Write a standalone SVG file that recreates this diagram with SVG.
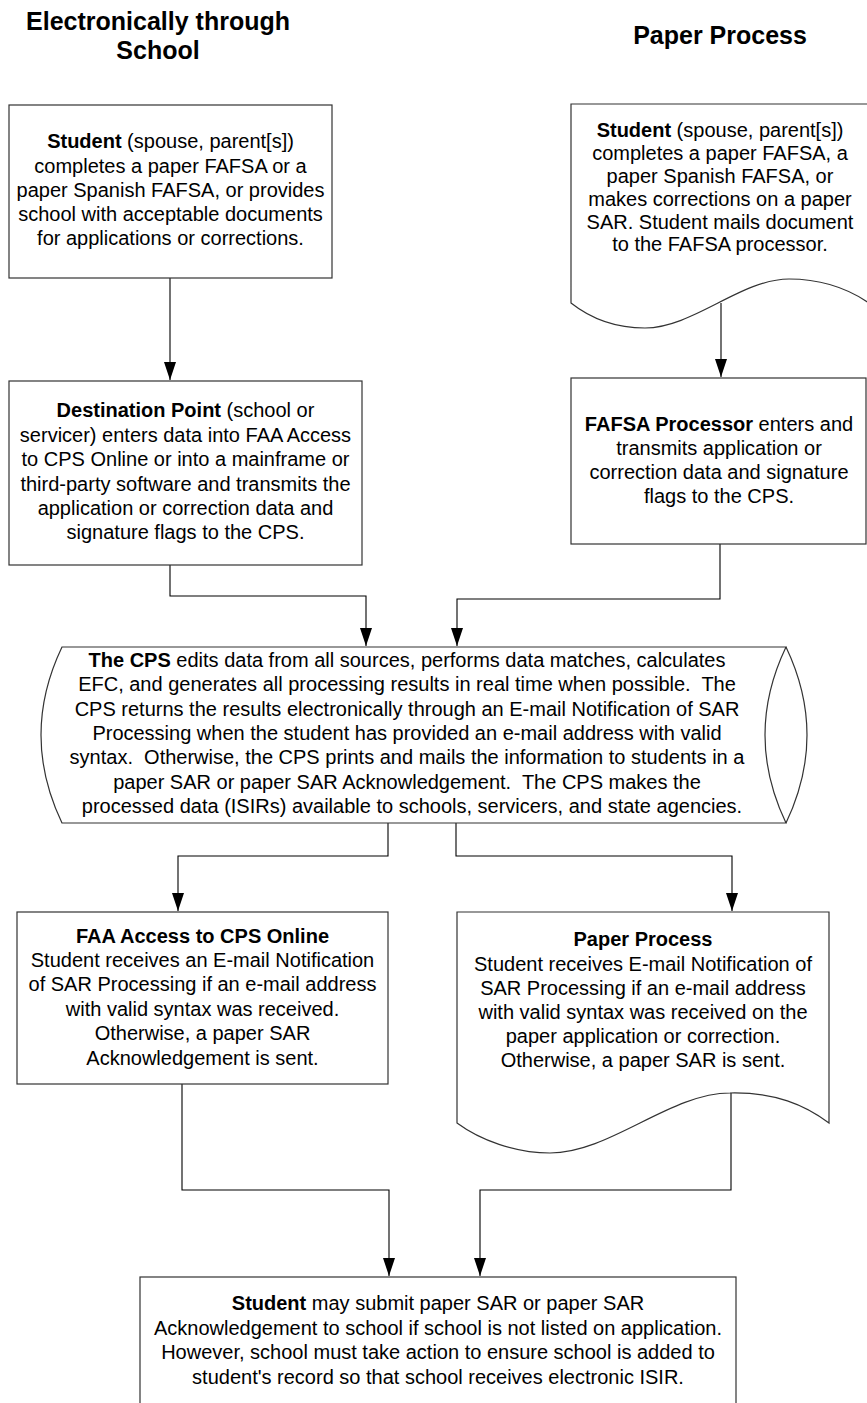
<svg xmlns="http://www.w3.org/2000/svg" width="867" height="1403" viewBox="0 0 867 1403">
<style>
.shape{fill:#fff;stroke:#333;stroke-width:1.2}
.line{fill:none;stroke:#000;stroke-width:1.1}
.t{font-family:"Liberation Sans",Arial,sans-serif;font-size:20px;text-anchor:middle;fill:#000;white-space:pre}
.h{font-family:"Liberation Sans",Arial,sans-serif;font-size:25px;font-weight:bold;text-anchor:middle;fill:#000}
.b{font-weight:bold}
</style>
<defs>
<marker id="arr" markerUnits="userSpaceOnUse" markerWidth="19" markerHeight="12" refX="18" refY="6" orient="auto">
<path d="M0,0 L18,6 L0,12 Z" fill="#000"/>
</marker>
</defs>
<rect width="867" height="1403" fill="#fff"/>

<g id="headings">
<text class="h" x="158" y="30">Electronically through</text>
<text class="h" x="158" y="59">School</text>
<text class="h" x="720" y="44">Paper Process</text>
</g>

<g id="connectors">
<path class="line" d="M170,278 V380" marker-end="url(#arr)"/>
<path class="line" d="M721,303 V377" marker-end="url(#arr)"/>
<path class="line" d="M170,565 V596 H366 V646" marker-end="url(#arr)"/>
<path class="line" d="M720,544 V599 H457 V646" marker-end="url(#arr)"/>
<path class="line" d="M388,823 V856 H178 V911" marker-end="url(#arr)"/>
<path class="line" d="M456,823 V856 H732 V911" marker-end="url(#arr)"/>
<path class="line" d="M182,1084 V1190 H389 V1276" marker-end="url(#arr)"/>
<path class="line" d="M731,1093 V1190 H480 V1276" marker-end="url(#arr)"/>
</g>

<g id="student-electronic">
<rect class="shape" x="9" y="105" width="323" height="173"/>
<text class="t" x="170.5" y="148"><tspan class="b">Student</tspan> (spouse, parent[s])</text>
<text class="t" x="170.5" y="173">completes a paper FAFSA or a</text>
<text class="t" x="170.5" y="197">paper Spanish FAFSA, or provides</text>
<text class="t" x="170.5" y="221">school with acceptable documents</text>
<text class="t" x="170.5" y="245">for applications or corrections.</text>
</g>

<g id="student-paper">
<path class="shape" d="M571,104 H869 V303 C850,290 825,279 789,279 C741,279 693,328 645,328 C615,328 590,318 571,303 Z"/>
<text class="t" x="720" y="137"><tspan class="b">Student</tspan> (spouse, parent[s])</text>
<text class="t" x="720" y="160">completes a paper FAFSA, a</text>
<text class="t" x="720" y="183">paper Spanish FAFSA, or</text>
<text class="t" x="720" y="206">makes corrections on a paper</text>
<text class="t" x="720" y="229">SAR. Student mails document</text>
<text class="t" x="720" y="251">to the FAFSA processor.</text>
</g>

<g id="destination-point">
<rect class="shape" x="9" y="381" width="353" height="184"/>
<text class="t" x="185.5" y="417"><tspan class="b">Destination Point</tspan> (school or</text>
<text class="t" x="185.5" y="442">servicer) enters data into FAA Access</text>
<text class="t" x="185.5" y="466">to CPS Online or into a mainframe or</text>
<text class="t" x="185.5" y="491">third-party software and transmits the</text>
<text class="t" x="185.5" y="515">application or correction data and</text>
<text class="t" x="185.5" y="539">signature flags to the CPS.</text>
</g>

<g id="fafsa-processor">
<rect class="shape" x="571" y="378" width="295" height="166"/>
<text class="t" x="719" y="431"><tspan class="b">FAFSA Processor</tspan> enters and</text>
<text class="t" x="719" y="455">transmits application or</text>
<text class="t" x="719" y="479">correction data and signature</text>
<text class="t" x="719" y="503">flags to the CPS.</text>
</g>

<g id="cps">
<path class="shape" d="M62,647 H786 Q744,735 786,823 H62 Q20,735 62,647 Z"/>
<path class="shape" d="M786,647 Q828,735 786,823" fill="none" style="fill:none"/>
<text class="t" x="407" y="667"><tspan class="b">The CPS</tspan> edits data from all sources, performs data matches, calculates</text>
<text class="t" x="407" y="691">EFC, and generates all processing results in real time when possible.  The</text>
<text class="t" x="407" y="716">CPS returns the results electronically through an E-mail Notification of SAR</text>
<text class="t" x="407" y="740">Processing when the student has provided an e-mail address with valid</text>
<text class="t" x="407" y="764">syntax.  Otherwise, the CPS prints and mails the information to students in a</text>
<text class="t" x="407" y="789">paper SAR or paper SAR Acknowledgement.  The CPS makes the</text>
<text class="t" x="412" y="813">processed data (ISIRs) available to schools, servicers, and state agencies.</text>
</g>

<g id="faa-access">
<rect class="shape" x="17" y="912" width="371" height="172"/>
<text class="t b" x="202.5" y="943">FAA Access to CPS Online</text>
<text class="t" x="202.5" y="967">Student receives an E-mail Notification</text>
<text class="t" x="202.5" y="991">of SAR Processing if an e-mail address</text>
<text class="t" x="202.5" y="1016">with valid syntax was received.</text>
<text class="t" x="202.5" y="1040">Otherwise, a paper SAR</text>
<text class="t" x="202.5" y="1065">Acknowledgement is sent.</text>
</g>

<g id="paper-process">
<path class="shape" d="M457,912 H829 V1123 C805,1105 775,1092 730,1093 C670,1093 610,1153 550,1153 C515,1153 480,1140 457,1123 Z"/>
<text class="t b" x="643" y="946">Paper Process</text>
<text class="t" x="643" y="971">Student receives E-mail Notification of</text>
<text class="t" x="643" y="995">SAR Processing if an e-mail address</text>
<text class="t" x="643" y="1019">with valid syntax was received on the</text>
<text class="t" x="643" y="1043">paper application or correction.</text>
<text class="t" x="643" y="1067">Otherwise, a paper SAR is sent.</text>
</g>

<g id="student-submit">
<rect class="shape" x="140" y="1277" width="596" height="140"/>
<text class="t" x="438" y="1310"><tspan class="b">Student</tspan> may submit paper SAR or paper SAR</text>
<text class="t" x="438" y="1335">Acknowledgement to school if school is not listed on application.</text>
<text class="t" x="438" y="1359">However, school must take action to ensure school is added to</text>
<text class="t" x="438" y="1384">student's record so that school receives electronic ISIR.</text>
</g>
</svg>
